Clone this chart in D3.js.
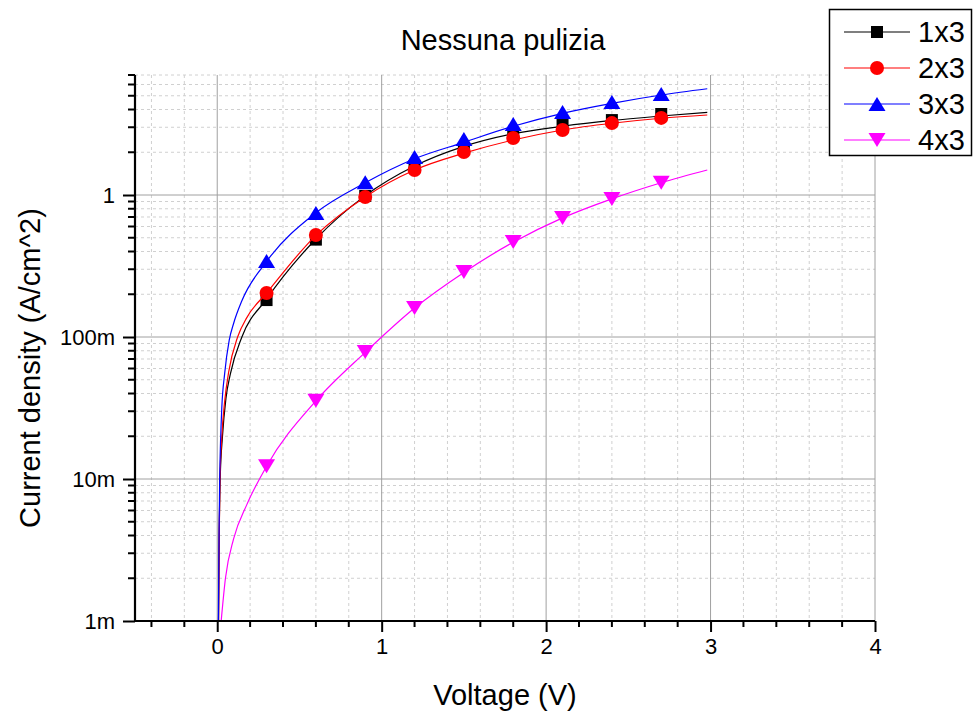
<!DOCTYPE html>
<html>
<head>
<meta charset="utf-8">
<script src="https://cdn.jsdelivr.net/npm/d3@7"></script>
<style>
  body { margin: 0; background: #fff; }
  text { font-family: "Liberation Sans", Arial, sans-serif; }
</style>
</head>
<body>
<svg id="chart"></svg>
<script>
// measured points (V, A/cm^2)
const voltage = [0.3, 0.6, 0.9, 1.2, 1.5, 1.8, 2.1, 2.4, 2.7];
const j1x3 = [0.182, 0.485, 0.985, 1.60, 2.11, 2.69, 3.11, 3.37, 3.72];
const j2x3 = [0.204, 0.523, 0.968, 1.50, 2.01, 2.52, 2.87, 3.21, 3.49];
const j3x3 = [0.343, 0.747, 1.23, 1.85, 2.48, 3.16, 3.84, 4.52, 5.14];
const j4x3 = [0.0123, 0.0355, 0.0784, 0.160, 0.287, 0.467, 0.689, 0.937, 1.22];

// fitted curves
const fitV1 = [0.008, 0.012, 0.018, 0.032, 0.053, 0.08, 0.15, 0.3, 0.6, 0.9, 1.2, 1.5, 1.8, 2.1, 2.4, 2.7, 2.98];
const fit1 = [0.001, 0.004, 0.01, 0.02, 0.037, 0.055, 0.1, 0.185, 0.49, 0.99, 1.6, 2.2, 2.7, 3.05, 3.35, 3.6, 3.82];
const fitV2 = [0.008, 0.012, 0.017, 0.028, 0.045, 0.07, 0.124, 0.18, 0.3, 0.6, 0.9, 1.2, 1.5, 1.8, 2.1, 2.4, 2.7, 2.98];
const fit2 = [0.001, 0.004, 0.01, 0.02, 0.035, 0.057, 0.1, 0.137, 0.204, 0.52, 0.97, 1.5, 1.97, 2.44, 2.87, 3.2, 3.47, 3.66];
const fitV3 = [0.007, 0.011, 0.015, 0.02, 0.028, 0.045, 0.073, 0.1, 0.15, 0.3, 0.6, 0.9, 1.2, 1.5, 1.8, 2.1, 2.4, 2.7, 2.98];
const fit3 = [0.001, 0.004, 0.01, 0.018, 0.032, 0.055, 0.095, 0.125, 0.18, 0.34, 0.75, 1.22, 1.8, 2.35, 3.05, 3.76, 4.42, 5.06, 5.6];
const fitV4 = [0.024, 0.05, 0.1, 0.18, 0.3, 0.6, 0.9, 1.2, 1.5, 1.8, 2.1, 2.4, 2.7, 2.98];
const fit4 = [0.001, 0.002, 0.0038, 0.0066, 0.0123, 0.0355, 0.078, 0.16, 0.285, 0.465, 0.69, 0.94, 1.22, 1.5];

const seriesNames = ['1x3', '2x3', '3x3', '4x3'];
const colors = ['#000000', '#ff0000', '#0000ff', '#ff00ff'];
const shapes = ['square', 'circle', 'triangleUp', 'triangleDown'];

const xTicks = [0, 1, 2, 3, 4];
const yTicks = [0.001, 0.01, 0.1, 1];
const yTickLabels = ['1m', '10m', '100m', '1'];

const width = 974, height = 720;
const plotLeft = 135, plotRight = 875, plotTop = 75, plotBottom = 621;

const series = seriesNames.map((name, i) => ({
  name,
  color: colors[i],
  shape: shapes[i],
  points: voltage.map((v, k) => ({ v, j: [j1x3, j2x3, j3x3, j4x3][i][k] })),
  fit: [fitV1, fitV2, fitV3, fitV4][i].map((v, k) => ({ v, j: [fit1, fit2, fit3, fit4][i][k] }))
}));

const svg = d3.select('#chart').attr('width', width).attr('height', height);

const x = d3.scaleLinear().domain([-0.5, 4]).range([plotLeft, plotRight]);
const y = d3.scaleLog().domain([0.001, 7]).range([plotBottom, plotTop]);

//GRID
const xMinor = d3.range(-0.4, 3.9, 0.2).map(d => +d.toFixed(1)).filter(d => !Number.isInteger(d));
const yMinor = [];
[0.001, 0.01, 0.1, 1].forEach(dec => {
  for (let k = 2; k <= 9; k++) if (dec * k <= 7.0001) yMinor.push(dec * k);
});

const grid = svg.append('g');
grid.selectAll('.xminor').data(xMinor).enter().append('line')
  .attr('x1', d => x(d)).attr('x2', d => x(d)).attr('y1', plotTop).attr('y2', plotBottom)
  .attr('stroke', '#d0d0d0').attr('stroke-dasharray', '3,3');
grid.selectAll('.yminor').data(yMinor).enter().append('line')
  .attr('x1', plotLeft).attr('x2', plotRight).attr('y1', d => y(d)).attr('y2', d => y(d))
  .attr('stroke', '#d0d0d0').attr('stroke-dasharray', '3,3');
grid.selectAll('.xmajor').data(xTicks).enter().append('line')
  .attr('x1', d => x(d)).attr('x2', d => x(d)).attr('y1', plotTop).attr('y2', plotBottom)
  .attr('stroke', '#a0a0a0');
grid.selectAll('.ymajor').data(yTicks.slice(1)).enter().append('line')
  .attr('x1', plotLeft).attr('x2', plotRight).attr('y1', d => y(d)).attr('y2', d => y(d))
  .attr('stroke', '#a0a0a0');

//CURVES
svg.append('clipPath').attr('id', 'clip')
  .append('rect').attr('x', plotLeft).attr('y', plotTop)
  .attr('width', plotRight - plotLeft).attr('height', plotBottom - plotTop);

const line = d3.line().x(d => x(d.v)).y(d => y(d.j)).curve(d3.curveMonotoneX);

function marker(shape) {
  if (shape === 'square') return 'M-6,-6H6V6H-6Z';
  if (shape === 'circle') return 'M7,0A7,7 0 1,1 -7,0A7,7 0 1,1 7,0Z';
  if (shape === 'triangleUp') return 'M0,-7L8.5,7L-8.5,7Z';
  return 'M0,7L8.5,-7L-8.5,-7Z';
}

const plot = svg.append('g').attr('clip-path', 'url(#clip)');
series.forEach(s => {
  plot.append('path').datum(s.fit)
    .attr('fill', 'none').attr('stroke', s.color).attr('stroke-width', 1.2)
    .attr('d', line);
  plot.selectAll(null).data(s.points).enter().append('path')
    .attr('transform', d => `translate(${x(d.v)},${y(d.j)})`)
    .attr('d', marker(s.shape))
    .attr('fill', s.color);
});

//AXES
const xAxis = d3.axisBottom(x).tickValues(xTicks).tickSize(11).tickPadding(6).tickFormat(d3.format('d'));
const gx = svg.append('g').attr('transform', `translate(0,${plotBottom})`).call(xAxis);
gx.append('g').selectAll('line').data(xMinor).enter().append('line')
  .attr('x1', d => x(d)).attr('x2', d => x(d)).attr('y1', 0).attr('y2', 6)
  .attr('stroke', '#000').attr('stroke-width', 2);

const yAxis = d3.axisLeft(y).tickValues(yTicks).tickSize(12).tickPadding(8)
  .tickFormat((d, i) => yTickLabels[i]);
const gy = svg.append('g').attr('transform', `translate(${plotLeft},0)`).call(yAxis);
gy.append('g').selectAll('line').data(yMinor).enter().append('line')
  .attr('x1', 0).attr('x2', -7).attr('y1', d => y(d)).attr('y2', d => y(d))
  .attr('stroke', '#000').attr('stroke-width', 2);

[gx, gy].forEach(g => {
  g.select('.domain').remove();
  g.selectAll('.tick line').attr('stroke', '#000').attr('stroke-width', 2);
  g.selectAll('.tick text').attr('font-size', 22).attr('fill', '#000')
    .attr('font-family', '"Liberation Sans", Arial, sans-serif');
});
gx.append('line').attr('x1', plotLeft - 1).attr('x2', plotRight).attr('y1', 0).attr('y2', 0)
  .attr('stroke', '#000').attr('stroke-width', 2.2);
gy.append('line').attr('x1', 0).attr('x2', 0).attr('y1', plotTop).attr('y2', plotBottom)
  .attr('stroke', '#000').attr('stroke-width', 2.2);

//TITLES
svg.append('text').attr('x', 503).attr('y', 50).attr('text-anchor', 'middle')
  .attr('font-size', 29).text('Nessuna pulizia');
svg.append('text').attr('x', 505).attr('y', 705).attr('text-anchor', 'middle')
  .attr('font-size', 29).text('Voltage (V)');
svg.append('text').attr('transform', 'translate(40,368) rotate(-90)').attr('text-anchor', 'middle')
  .attr('font-size', 29).text('Current density (A/cm^2)');

//LEGEND
const legend = svg.append('g');
legend.append('rect').attr('x', 829.5).attr('y', 9.5).attr('width', 142).attr('height', 146)
  .attr('fill', '#fff').attr('stroke', '#000').attr('stroke-width', 1.5);
const rowY = d3.scalePoint().domain(seriesNames).range([32, 140]);
series.forEach(s => {
  const g = legend.append('g').attr('transform', `translate(0,${rowY(s.name)})`);
  g.append('line').attr('x1', 844).attr('x2', 910).attr('stroke', s.color).attr('stroke-width', 1.2);
  g.append('path').attr('transform', 'translate(877,0)').attr('d', marker(s.shape)).attr('fill', s.color);
  g.append('text').attr('x', 918).attr('y', 10).attr('font-size', 29).text(s.name);
});
</script>
</body>
</html>
